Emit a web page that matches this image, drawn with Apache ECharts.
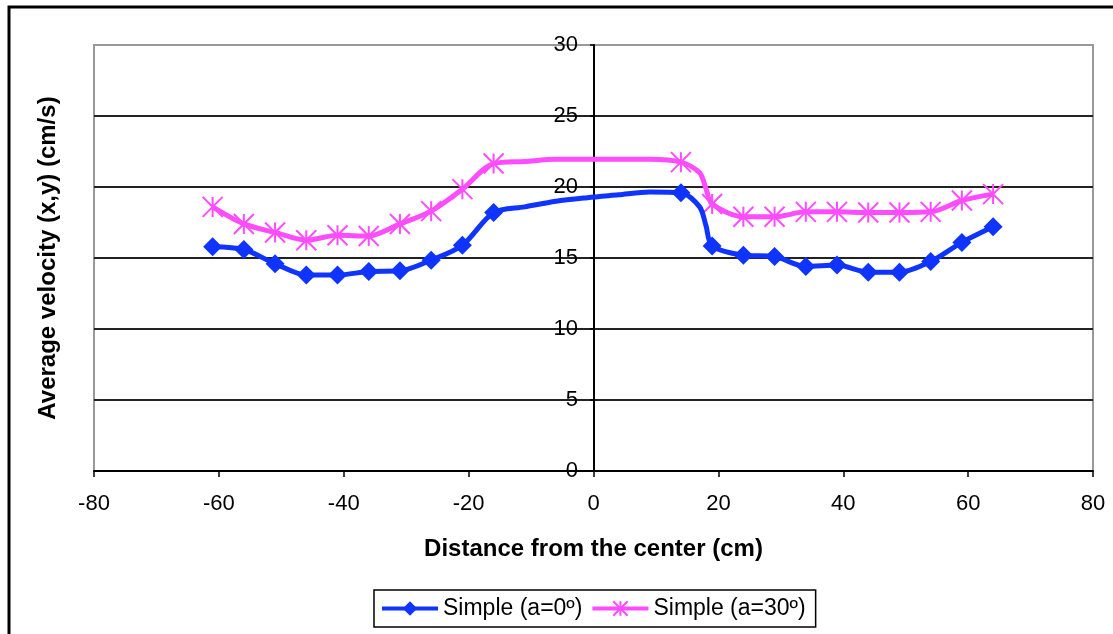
<!DOCTYPE html>
<html>
<head>
<meta charset="utf-8">
<script src="https://cdn.jsdelivr.net/npm/echarts@6/dist/echarts.min.js"></script>
<style>
html,body{margin:0;padding:0;background:#fff;}
#chart{width:1113px;height:634px;}
</style>
</head>
<body>
<div id="chart"></div>
<script>
// Distance from the center (cm)
const distance = [-61,-56,-51,-46,-41,-36,-31,-26,-21,-16,-11,-6,-1,4,9,14,17,18,19,24,29,34,39,44,49,54,59,64];
// true = measured point (drawn with a marker), false = curve point
const measured = [true,true,true,true,true,true,true,true,true,true,false,false,false,false,false,true,false,false,true,true,true,true,true,true,true,true,true,true];
// Average velocity (cm/s)
const simpleA0 = [15.8,15.6,14.6,13.8,13.8,14.05,14.1,14.85,15.9,18.2,18.6,19.0,19.25,19.45,19.65,19.6,18.6,17.3,15.85,15.2,15.1,14.4,14.5,14.0,14.0,14.75,16.1,17.2];
const simpleA30 = [18.6,17.4,16.8,16.25,16.6,16.55,17.4,18.3,19.85,21.65,21.8,21.95,21.95,21.95,21.95,21.75,21.0,19.9,18.8,17.9,17.9,18.25,18.25,18.2,18.2,18.25,19.05,19.5];
const seriesNames = ['Simple (a=0º)','Simple (a=30º)'];
const xTitle = 'Distance from the center (cm)';
const yTitle = 'Average velocity (x,y) (cm/s)';

const FONT = '"Liberation Sans", Arial, sans-serif';
const asterisk = 'path://M0 0L20 20M20 0L0 20M10 0L10 20';
const BLUE = '#1034ff';
const PINK = '#ff4cff';

function buildData(vals){
  return distance.map((x,i)=> measured[i] ? [x, vals[i]] : {value:[x, vals[i]], symbol:'none'});
}

const chart = echarts.init(document.getElementById('chart'));
chart.setOption({
  animation:false,
  backgroundColor:'#fff',
  grid:{left:94, top:45, right:20, bottom:163, show:true, borderColor:'#999', borderWidth:2, backgroundColor:'#fff'},
  xAxis:{
    type:'value', min:-80, max:80, interval:20,
    name:xTitle, nameLocation:'middle', nameGap:66,
    nameTextStyle:{fontFamily:FONT, fontSize:24, fontWeight:'bold', color:'#000'},
    axisLine:{onZero:false, lineStyle:{color:'#000', width:2}},
    axisTick:{show:true, length:6, lineStyle:{color:'#000', width:1.5}},
    axisLabel:{fontFamily:FONT, fontSize:22, color:'#000', margin:22},
    splitLine:{show:false}
  },
  yAxis:{
    type:'value', min:0, max:30, interval:5,
    position:'left', offset:-500,
    axisLine:{onZero:false, lineStyle:{color:'#000', width:2}},
    axisTick:{show:true, length:4, lineStyle:{color:'#000', width:1.5}},
    axisLabel:{fontFamily:FONT, fontSize:22, color:'#000', margin:16},
    splitLine:{show:true, lineStyle:{color:['#222','#222','#222','#222','#222','#222','#999'], width:2}}
  },
  legend:{
    left:374, top:590, orient:'horizontal',
    borderColor:'#000', borderWidth:1.5, borderRadius:0, padding:[7,10,7,6],
    itemWidth:56, itemHeight:18, itemGap:8,
    textStyle:{fontFamily:FONT, fontSize:23, color:'#000'},
    data:[
      {name:seriesNames[0], lineStyle:{width:4, color:BLUE}},
      {name:seriesNames[1], lineStyle:{width:4, color:PINK}}
    ]
  },
  graphic:[
    {type:'rect', shape:{x:9, y:7, width:1120, height:640}, style:{fill:'none', stroke:'#000', lineWidth:3}, silent:true},
    {type:'text', x:48, y:258, rotation:Math.PI/2, style:{text:yTitle, fontFamily:FONT, fontSize:24, fontWeight:'bold', fill:'#000', textAlign:'center', textVerticalAlign:'middle'}}
  ],
  series:[
    {
      name:seriesNames[0], type:'line', smooth:0.3,
      data:buildData(simpleA0),
      symbol:'diamond', symbolSize:19,
      lineStyle:{color:BLUE, width:5},
      itemStyle:{color:BLUE},
      z:3
    },
    {
      name:seriesNames[1], type:'line', smooth:0.3,
      data:buildData(simpleA30),
      symbol:asterisk, symbolSize:20,
      lineStyle:{color:PINK, width:5},
      itemStyle:{color:PINK, borderColor:PINK, borderWidth:2},
      z:2
    }
  ]
});
</script>
</body>
</html>
